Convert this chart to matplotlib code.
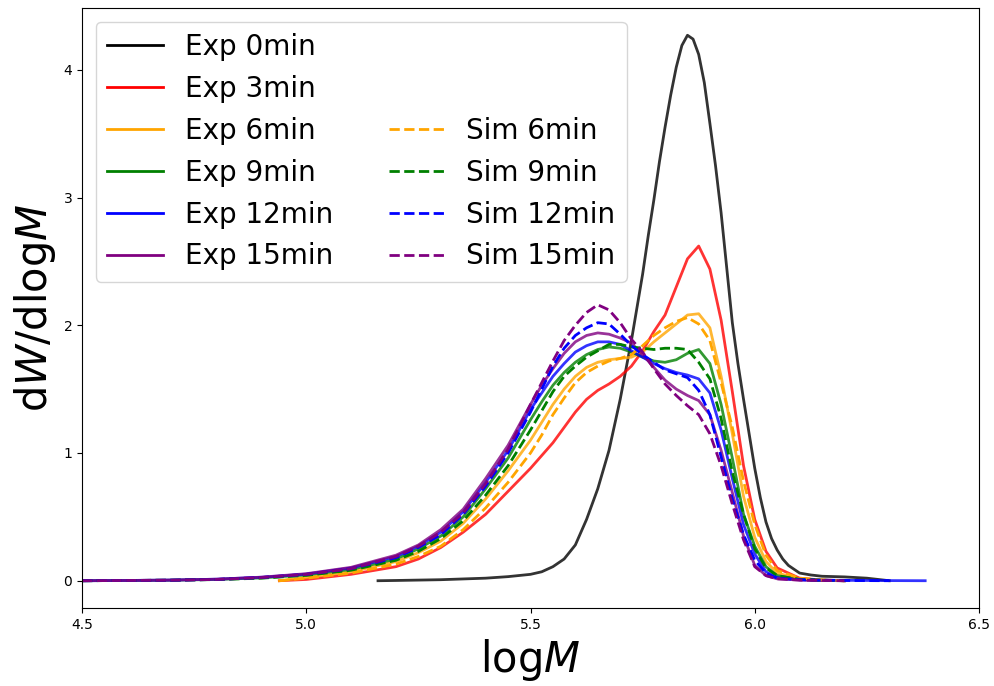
import matplotlib
matplotlib.use("Agg")
import matplotlib.pyplot as plt
from matplotlib.lines import Line2D

# logM grids
logm_full = [4.5, 4.6, 4.7, 4.8, 4.9, 5.0, 5.1, 5.2, 5.25, 5.3, 5.35, 5.4, 5.45, 5.5,
             5.525, 5.55, 5.575, 5.6, 5.625, 5.65, 5.675, 5.7,
             5.725, 5.75, 5.775, 5.8, 5.825, 5.85, 5.875, 5.9,
             5.925, 5.95, 5.975, 6.0, 6.025, 6.05, 6.1, 6.15, 6.2]
logm_late = [4.94, 5.0, 5.1, 5.2, 5.25, 5.3, 5.35, 5.4, 5.45, 5.5,
             5.525, 5.55, 5.575, 5.6, 5.625, 5.65, 5.675, 5.7,
             5.725, 5.75, 5.775, 5.8, 5.825, 5.85, 5.875, 5.9,
             5.925, 5.95, 5.975, 6.0, 6.025, 6.05, 6.1, 6.15, 6.2]
logm_exp0 = [5.16, 5.2, 5.3, 5.4, 5.45, 5.5, 5.525, 5.55, 5.575, 5.6, 5.625, 5.65, 5.675, 5.7,
             5.725, 5.75, 5.7625, 5.775, 5.7875, 5.8, 5.8125, 5.825, 5.8375, 5.85, 5.8625,
             5.875, 5.8875, 5.9, 5.9125, 5.925, 5.9375, 5.95, 5.9625, 5.975, 5.9875, 6.0,
             6.0125, 6.025, 6.0375, 6.05, 6.0625, 6.075, 6.1, 6.125, 6.15, 6.2, 6.25, 6.3]
logm_exp12 = logm_full + [6.3, 6.38]
logm_sim12 = logm_full + [6.3]

exp0 = [0, 0.002, 0.008, 0.02, 0.032, 0.05, 0.07, 0.11, 0.17, 0.28, 0.48, 0.72, 1.02, 1.42,
        1.88, 2.40, 2.70, 2.98, 3.28, 3.55, 3.80, 4.02, 4.19, 4.27, 4.24,
        4.12, 3.90, 3.58, 3.25, 2.88, 2.45, 2.02, 1.70, 1.42, 1.15, 0.88,
        0.65, 0.46, 0.33, 0.24, 0.17, 0.12, 0.06, 0.045, 0.035, 0.03, 0.02, 0]
exp3 = [0, 0.01, 0.05, 0.11, 0.17, 0.26, 0.38, 0.52, 0.70, 0.88,
        0.98, 1.08, 1.20, 1.32, 1.42, 1.49, 1.54, 1.60,
        1.68, 1.80, 1.95, 2.08, 2.30, 2.52, 2.62, 2.44,
        2.04, 1.48, 0.90, 0.48, 0.23, 0.10, 0.02, 0.005, 0]
exp6 = [0, 0.025, 0.07, 0.15, 0.22, 0.31, 0.45, 0.64, 0.86, 1.10,
        1.24, 1.38, 1.50, 1.60, 1.67, 1.71, 1.73, 1.74,
        1.75, 1.79, 1.87, 1.94, 2.01, 2.08, 2.09, 1.98,
        1.60, 1.15, 0.66, 0.34, 0.15, 0.06, 0.015, 0.005, 0]
exp9 = [0, 0.002, 0.004, 0.01, 0.022, 0.045, 0.088, 0.17, 0.25, 0.35, 0.50, 0.72, 0.96, 1.26,
        1.40, 1.53, 1.63, 1.71, 1.77, 1.81, 1.83, 1.82,
        1.79, 1.75, 1.72, 1.71, 1.73, 1.78, 1.81, 1.70,
        1.38, 0.96, 0.52, 0.27, 0.11, 0.04, 0.01, 0.004, 0]
exp12 = [0, 0.002, 0.005, 0.012, 0.027, 0.052, 0.10, 0.19, 0.27, 0.38, 0.54, 0.77, 1.02, 1.34,
         1.47, 1.60, 1.70, 1.79, 1.84, 1.87, 1.87, 1.85,
         1.80, 1.75, 1.70, 1.66, 1.63, 1.61, 1.58, 1.47,
         1.18, 0.80, 0.44, 0.21, 0.07, 0.025, 0.008, 0.004, 0.003, 0.001, 0]
exp15 = [0, 0.002, 0.005, 0.012, 0.028, 0.055, 0.105, 0.20, 0.28, 0.40, 0.56, 0.80, 1.06, 1.38,
         1.53, 1.66, 1.78, 1.87, 1.92, 1.94, 1.93, 1.90,
         1.86, 1.77, 1.67, 1.57, 1.50, 1.45, 1.41, 1.30,
         1.02, 0.69, 0.35, 0.12, 0.04, 0.015, 0.005, 0.002, 0]

sim6 = [0, 0.02, 0.06, 0.13, 0.19, 0.27, 0.40, 0.57, 0.77, 1.00,
        1.14, 1.30, 1.43, 1.55, 1.63, 1.68, 1.72, 1.74,
        1.77, 1.84, 1.92, 1.98, 2.03, 2.06, 2.01, 1.88,
        1.55, 1.20, 0.78, 0.44, 0.20, 0.08, 0.02, 0.006, 0]
sim9 = [0, 0.002, 0.004, 0.009, 0.02, 0.042, 0.082, 0.16, 0.23, 0.33, 0.47, 0.67, 0.90, 1.18,
        1.33, 1.48, 1.60, 1.68, 1.75, 1.80, 1.85, 1.85,
        1.83, 1.82, 1.81, 1.82, 1.82, 1.81, 1.71, 1.58,
        1.27, 0.85, 0.52, 0.25, 0.10, 0.04, 0.01, 0.004, 0]
sim12 = [0, 0.002, 0.004, 0.01, 0.025, 0.05, 0.095, 0.18, 0.26, 0.36, 0.52, 0.74, 1.00, 1.32,
         1.50, 1.68, 1.82, 1.92, 1.98, 2.02, 2.01, 1.93,
         1.84, 1.77, 1.71, 1.65, 1.62, 1.59, 1.49, 1.30,
         0.97, 0.64, 0.36, 0.16, 0.06, 0.02, 0.008, 0.004, 0.002, 0]
sim15 = [0, 0.002, 0.004, 0.01, 0.025, 0.05, 0.095, 0.19, 0.27, 0.38, 0.53, 0.76, 1.03, 1.38,
         1.55, 1.72, 1.88, 2.00, 2.10, 2.16, 2.12, 2.02,
         1.89, 1.79, 1.66, 1.54, 1.45, 1.37, 1.30, 1.15,
         0.90, 0.60, 0.32, 0.11, 0.04, 0.015, 0.005, 0.002, 0]

EXP = [
    (logm_exp0, exp0, "black", "Exp 0min"),
    (logm_late, exp3, "red", "Exp 3min"),
    (logm_late, exp6, "orange", "Exp 6min"),
    (logm_full, exp9, "green", "Exp 9min"),
    (logm_exp12, exp12, "blue", "Exp 12min"),
    (logm_full, exp15, "purple", "Exp 15min"),
]
SIM = [
    (logm_late, sim6, "orange", "Sim 6min"),
    (logm_full, sim9, "green", "Sim 9min"),
    (logm_sim12, sim12, "blue", "Sim 12min"),
    (logm_full, sim15, "purple", "Sim 15min"),
]

fig = plt.figure(figsize=(9.94, 6.86), dpi=100)
ax = fig.add_axes([82 / 994, 78 / 686, 897 / 994, 600 / 686])

handles = []
for x, y, c, label in EXP:
    ax.plot(x, y, color=c, lw=2, alpha=0.8)
    handles.append(Line2D([], [], color=c, lw=2, label=label))
# two blank slots so the Sim entries line up with 6..15 min
for _ in range(2):
    handles.append(Line2D([], [], color="none", label=" "))
for x, y, c, label in SIM:
    ax.plot(x, y, color=c, lw=2, ls="--")
    handles.append(Line2D([], [], color=c, lw=2, ls="--", label=label))

ax.set_xlim(4.5, 6.5)
ax.set_xticks([4.5, 5.0, 5.5, 6.0, 6.5])
ax.set_xlabel(r"log$M$", fontsize=30)
ax.set_ylabel(r"d$W$/dlog$M$", fontsize=30)
ax.legend(handles=handles, ncol=2, loc="upper left", fontsize=20)

fig.savefig("out.png", dpi=100)
